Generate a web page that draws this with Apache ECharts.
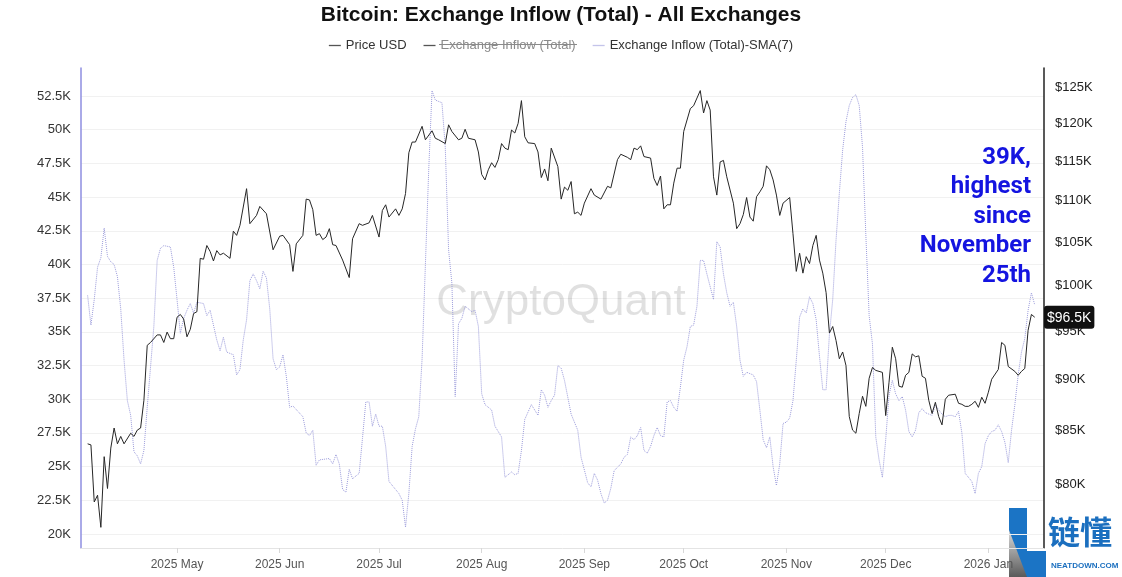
<!DOCTYPE html>
<html>
<head>
<meta charset="utf-8">
<title>Bitcoin: Exchange Inflow (Total) - All Exchanges</title>
<script src="https://cdn.jsdelivr.net/npm/echarts@6/dist/echarts.min.js"></script>
<style>
  html, body { margin: 0; padding: 0; background: #fff; }
  #chart { width: 1122px; height: 577px; }
</style>
</head>
<body>
<div id="chart"></div>
<script>
// days counted from 2025-04-01
const START = Date.UTC(2025, 3, 1);
const DAY = 86400000;

const priceDays = [
  3, 4, 5, 6, 7, 8, 9, 10, 11, 12, 13, 14, 16, 17, 18, 19, 20, 21, 22, 24, 25, 26, 27, 28, 29, 30,
  31, 32, 33, 34, 35, 36, 37, 38, 39, 40, 41, 42, 43, 44, 46, 47, 48, 49, 51, 52, 54, 55, 57, 59,
  61, 62, 64, 65, 66, 68, 69, 70, 71, 72, 73, 74, 75, 76, 77, 78, 80, 82, 83, 85, 86, 88, 89, 91,
  92, 93, 94, 96, 97, 98, 99, 100, 101, 102, 104, 105, 107, 108, 109, 111, 112, 113, 115, 116, 117,
  118, 120, 121, 122, 123, 124, 125, 126, 127, 128, 129, 130, 131, 132, 133, 134, 135, 136, 138,
  139, 140, 141, 142, 143, 145, 146, 147, 148, 149, 150, 151, 152, 153, 155, 156, 158, 160, 161,
  163, 164, 166, 167, 168, 169, 170, 171, 173, 174, 175, 176, 177, 178, 179, 180, 181, 182, 183,
  185, 186, 188, 189, 190, 191, 192, 193, 194, 195, 196, 198, 199, 200, 201, 202, 203, 204, 205,
  206, 207, 208, 209, 210, 211, 212, 213, 215, 216, 217, 218, 219, 220, 221, 222, 223, 224, 225,
  226, 227, 228, 229, 230, 231, 232, 233, 234, 235, 236, 237, 238, 239, 240, 241, 243, 244, 245,
  246, 247, 248, 249, 250, 251, 252, 253, 254, 255, 256, 257, 258, 259, 260, 261, 262, 263, 265,
  266, 267, 268, 269, 270, 271, 272, 273, 274, 275, 276, 278, 279, 280, 281, 283, 284, 285, 286,
  287, 288, 289
];
const priceUsd = [
  83700, 83600, 78400, 79000, 76200, 82500, 79600, 83300, 85200, 83700, 84400, 83700, 84700, 84400,
  85000, 85200, 87900, 93500, 93800, 94600, 94600, 93800, 94900, 94200, 94200, 96500,
  96800, 96300, 94400, 95200, 96900, 97100, 103100, 103000, 104600, 103900, 102800, 104000, 103500,
  103700, 103100, 106300, 105800, 107000, 111500, 107200, 108200, 109300, 108400, 104100,
  105700, 105800, 104700, 101600, 104800, 105800, 110200, 110100, 108900, 105800, 106000, 105300,
  105600, 106600, 104700, 104600, 102900, 100900, 105400, 107200, 107000, 107300, 108200, 105600,
  108800, 109500, 108000, 109000, 108200, 109000, 110900, 116100, 117500, 117500, 119600, 117800,
  119000, 118000, 117800, 117300, 119800, 118900, 117800, 118000, 119200,
  118000, 117800, 116200, 113300, 112600, 113900, 114800, 114200, 115200, 117300, 116700, 116500,
  119100, 118700, 120000, 123100, 118200, 117400, 117300,
  116200, 112900, 114000, 112500, 116700, 114300, 110200, 111700, 111300, 112400, 108400, 108600,
  108200, 109700, 111500, 110700, 110200, 111800, 111600,
  115200, 115900, 115500, 115200, 116700, 116500, 117000, 115600, 115400, 112800, 111900, 113100,
  109000, 109500, 109500, 112200, 114100, 114100, 118900,
  122000, 122400, 124500, 121400, 123100, 121800, 113000, 110700, 114900, 115100, 113000, 109700,
  106600, 107200, 108300, 110400, 108000, 107500, 110500,
  111100, 111800, 114400, 113900, 112600, 110700, 108200, 109700, 110400, 106000, 101600, 103700,
  101400, 103300, 102500, 104600, 105800, 102900, 101400,
  99200, 94800, 95500, 94000, 92100, 92800, 91400, 86300, 85000, 84700, 86600, 88300, 87300, 90100,
  91200, 90900, 90700, 86400, 89700,
  93300, 92100, 89300, 89200, 90400, 90700, 92600, 92300, 92400, 90300, 90100, 87900, 86600, 87700,
  86300, 85500, 88000, 88400, 88500,
  87600, 87500, 87300, 87300, 87500, 87800, 87200, 88200, 87600, 88700, 90000, 91000, 93800, 93500,
  91300, 90800, 90400, 90800, 91100,
  95100, 96800, 96500
];

const smaDays = [
  3, 4, 5, 6, 7, 8, 9, 10, 11, 12, 13, 14, 15, 16, 17, 18, 19, 20, 21, 22, 23, 24, 25, 26, 28, 29,
  30, 31, 32, 33, 34, 35, 36, 38, 39, 40, 42, 43, 44, 45, 47, 48, 49, 50, 51, 52, 53, 54, 55, 56,
  57, 58, 59, 60, 61, 62, 63, 64, 65, 68, 69, 70, 71, 72, 73, 76, 77, 78, 79, 80, 81, 82, 83, 85,
  86, 87, 88, 89, 90, 91, 92, 93, 94, 96, 97, 98, 99, 100, 101, 102, 103, 104, 105, 106, 107, 108,
  110, 111, 112, 113, 114, 115, 116, 117, 119, 120, 121, 122, 123, 125, 126, 128, 129, 131, 132,
  133, 134, 135, 137, 138, 139, 140, 141, 142, 143, 144, 145, 146, 147, 149, 151, 152, 154, 155,
  156, 157, 158, 159, 160, 161, 162, 164, 165, 166, 167, 168, 169, 170, 171, 172, 173, 174, 175,
  176, 177, 178, 179, 180, 181, 182, 183, 184, 185, 186, 187, 188, 189, 190, 192, 193, 194, 195,
  196, 197, 198, 199, 200, 201, 202, 204, 205, 206, 207, 208, 209, 210, 211, 212, 213, 214, 215,
  216, 217, 218, 219, 220, 221, 222, 223, 224, 225, 226, 227, 228, 229, 230, 231, 232, 233, 234,
  235, 236, 237, 238, 239, 240, 241, 242, 243, 244, 245, 246, 247, 248, 249, 250, 251, 252, 253,
  254, 255, 256, 257, 258, 259, 260, 261, 262, 263, 264, 265, 266, 267, 268, 269, 270, 271, 272,
  273, 274, 275, 276, 277, 278, 279, 280, 281, 282, 283, 284, 285, 286, 287, 288, 289
];
const smaInflow = [
  37700, 35500, 37400, 39800, 40500, 42700, 40600, 40200, 40000, 39100, 36700, 32900, 29900, 28800,
  26100, 25800, 25200, 26200, 29400, 32400, 35400, 40300, 41200, 41400, 41300, 39800,
  37400, 34900, 36000, 36600, 37100, 36400, 37200, 37100, 36200, 36600, 34400, 33600, 34600, 33500,
  33300, 31800, 32200, 34400, 35900, 38800, 39300, 38800, 38200, 39500,
  39000, 36700, 33000, 32200, 32400, 33300, 31700, 29400, 29500, 28700, 27500, 27300, 27700, 25100,
  25500, 25600, 25200, 25900, 25200, 23300, 23100, 24800, 24100, 24500,
  27100, 29800, 29800, 28000, 28900, 28000, 28000, 26500, 23900, 23300, 23000, 22500, 20500, 23000,
  26500, 27800, 28700, 33000, 40000, 47000, 52900, 52200,
  52000, 48700, 41100, 38600, 30200, 35600, 36000, 36900, 36500, 36600, 35400, 30400, 29600, 29200,
  28000, 27200, 24200, 24600, 24400,
  24500, 26200, 28500, 29600, 29200, 28800, 30700, 30300, 29400, 29900, 30300, 32500, 32300, 31400,
  28900, 27700, 25700, 23800, 23500,
  24500, 24000, 23000, 22300, 22500, 23400, 24700, 25200, 25700, 25900, 27200, 27000, 27300, 27900,
  26200, 26000, 26500, 27300, 27900,
  27300, 27200, 29800, 29900, 29400, 29100, 30900, 32900, 33900, 35400, 35500, 36900, 40300, 40300,
  39300, 37400, 41700, 41300, 39300,
  37900, 36900, 37200, 35400, 32900, 31700, 32000, 31800, 31300, 29200, 27000, 26400, 27200, 25000,
  23600, 25200, 28200, 28300, 28600,
  29900, 32900, 36100, 36700, 36400, 37600, 37100, 35900, 33200, 30700, 30700, 34800, 37400, 41800,
  45300, 48500, 50600, 51800, 52400,
  52600, 51800, 48700, 42200, 36200, 34100, 27200, 25500, 24200, 27000, 30300, 31400, 30400, 29900,
  30200, 29200, 27600, 27200, 27700,
  29000, 29300, 29000, 28900, 28800, 29600, 29200, 28900, 28700, 28800, 28800, 28700, 29100, 27500,
  24500, 24200, 23900, 23000, 24500,
  25000, 26700, 27300, 27600, 27700, 28100, 27600, 26800, 25300, 27700, 29600, 31800, 33500, 34500,
  36600, 37900, 37000
];

const inflowTicks = [20000, 22500, 25000, 27500, 30000, 32500, 35000, 37500, 40000, 42500, 45000, 47500, 50000, 52500];
const priceTicks = [80000, 85000, 90000, 95000, 100000, 105000, 110000, 115000, 120000, 125000];
const monthNames = ['Jan', 'Feb', 'Mar', 'Apr', 'May', 'Jun', 'Jul', 'Aug', 'Sep', 'Oct', 'Nov', 'Dec'];

const xRangeDays = [1, 291.8];
const inflowRange = [18960, 54580];
const priceRange = [74450, 127700];

const annotation = '39K,\nhighest\nsince\nNovember\n25th';

const toTime = d => START + d * DAY;
// price axis is logarithmic, so the right axis works on ln(price)
const lnPrice = v => Math.log(v);
const fmtK = v => {
  const k = v / 1000;
  return (Number.isInteger(k) ? k : k.toFixed(1)) + 'K';
};

const FONT = '"Liberation Sans", Arial, sans-serif';
const PRICE_COLOR = '#262626';
const SMA_COLOR = '#9d9ddc';
const lastPrice = priceUsd[priceUsd.length - 1];

const chart = echarts.init(document.getElementById('chart'), null, { renderer: 'canvas' });

chart.setOption({
  animation: false,
  backgroundColor: '#fff',
  textStyle: { fontFamily: FONT },
  title: {
    text: 'Bitcoin: Exchange Inflow (Total) - All Exchanges',
    left: 'center',
    top: 0,
    textStyle: { fontSize: 21, fontWeight: 'bold', color: '#111', fontFamily: FONT },
  },
  legend: {
    top: 34,
    left: 'center',
    icon: 'rect',
    itemWidth: 12,
    itemHeight: 1.3,
    itemGap: 17,
    textStyle: { fontSize: 13, color: '#333', fontFamily: FONT },
    data: [
      { name: 'Price USD', itemStyle: { color: '#555' } },
      { name: 'Exchange Inflow (Total)', itemStyle: { color: '#555' }, textStyle: { color: '#8a8a8a' } },
      { name: 'Exchange Inflow (Total)-SMA(7)', itemStyle: { color: '#c4c4ea' } },
    ],
  },
  grid: { left: 81, right: 78, top: 68, bottom: 29 },
  xAxis: {
    type: 'time',
    min: toTime(xRangeDays[0]),
    max: toTime(xRangeDays[1]),
    minInterval: 28 * DAY,
    splitNumber: 9,
    axisLine: { lineStyle: { color: '#e4e4e4', width: 1 } },
    axisTick: { show: true, length: 5, lineStyle: { color: '#d8d8d8' } },
    splitLine: { show: false },
    axisLabel: {
      color: '#555',
      fontSize: 12,
      margin: 11,
      formatter: v => {
        const d = new Date(v);
        return d.getUTCFullYear() + ' ' + monthNames[d.getUTCMonth()];
      },
    },
  },
  yAxis: [
    {
      type: 'value',
      position: 'left',
      min: inflowRange[0],
      max: inflowRange[1],
      axisLine: { show: true, lineStyle: { color: '#8e8ee0', width: 1.5 } },
      axisTick: { show: false, customValues: inflowTicks },
      splitLine: { show: true, lineStyle: { color: '#f1f1f1', width: 1 } },
      axisLabel: {
        customValues: inflowTicks,
        color: '#333',
        fontSize: 13,
        margin: 10,
        formatter: v => fmtK(v),
      },
    },
    {
      type: 'value',
      position: 'right',
      min: lnPrice(priceRange[0]),
      max: lnPrice(priceRange[1]),
      axisLine: { show: true, lineStyle: { color: '#222', width: 1.5 } },
      axisTick: { show: false, customValues: priceTicks.map(lnPrice) },
      splitLine: { show: false },
      axisLabel: {
        customValues: priceTicks.map(lnPrice),
        color: '#222',
        fontSize: 13,
        margin: 11,
        formatter: v => '$' + Math.round(Math.exp(v) / 1000) + 'K',
      },
      axisPointer: {
        show: true,
        status: 'show',
        value: lnPrice(lastPrice),
        triggerTooltip: false,
        lineStyle: { opacity: 0 },
        label: {
          show: true,
          backgroundColor: '#111',
          color: '#fff',
          fontSize: 14,
          fontFamily: FONT,
          padding: [5, 3, 4, 3],
          margin: 0,
          formatter: p => '$' + fmtK(Math.round(Math.exp(p.value) / 100) * 100),
        },
      },
    },
  ],
  series: [
    {
      name: 'Price USD',
      type: 'line',
      yAxisIndex: 1,
      showSymbol: false,
      symbol: 'none',
      z: 4,
      data: priceDays.map((d, i) => [toTime(d), lnPrice(priceUsd[i])]),
      lineStyle: { color: PRICE_COLOR, width: 1 },
      itemStyle: { color: PRICE_COLOR },
    },
    {
      name: 'Exchange Inflow (Total)',
      type: 'line',
      yAxisIndex: 0,
      symbol: 'none',
      data: [],
      lineStyle: { color: '#555', width: 1 },
      itemStyle: { color: '#555' },
    },
    {
      name: 'Exchange Inflow (Total)-SMA(7)',
      type: 'line',
      yAxisIndex: 0,
      showSymbol: false,
      symbol: 'none',
      z: 3,
      data: smaDays.map((d, i) => [toTime(d), smaInflow[i]]),
      lineStyle: { color: SMA_COLOR, width: 1, type: 'dotted' },
      itemStyle: { color: SMA_COLOR },
    },
  ],
  graphic: [
    // watermark
    {
      type: 'text',
      left: 'center',
      top: 281,
      z: 1,
      style: {
        text: 'CryptoQuant',
        fill: 'rgba(0,0,0,0.12)',
        font: '500 44px "Liberation Sans", Arial, sans-serif',
      },
    },
    // struck-through legend entry
    {
      type: 'line',
      z: 100,
      shape: { x1: 439, y1: 44.5, x2: 577, y2: 44.5 },
      style: { stroke: '#8a8a8a', lineWidth: 1 },
    },
    {
      type: 'text',
      x: 1031,
      y: 143,
      z: 50,
      style: {
        text: annotation,
        fill: '#1414e0',
        align: 'right',
        verticalAlign: 'top',
        lineHeight: 29.5,
        font: 'bold 24px Roboto, "Liberation Sans", sans-serif',
      },
    },
    // site logo in the corner
    {
      type: 'group',
      left: 1005,
      top: 505,
      z: 200,
      children: [
        { type: 'rect', shape: { x: 0, y: 0, width: 117, height: 72 }, style: { fill: '#fff' } },
        { type: 'rect', shape: { x: 4, y: 3, width: 18, height: 69 }, style: { fill: '#1b74c5' } },
        {
          type: 'polygon',
          shape: { points: [[4, 25], [22, 72], [4, 72]] },
          style: {
            fill: new echarts.graphic.LinearGradient(0, 0, 0, 1, [
              { offset: 0, color: '#d9d9d9' },
              { offset: 1, color: '#5a5a5a' },
            ]),
          },
        },
        { type: 'rect', shape: { x: 22, y: 46, width: 19, height: 26 }, style: { fill: '#1b74c5' } },
        {
          type: 'text',
          x: 43,
          y: 11,
          style: { text: '链懂', fill: '#1b6fbf', font: 'bold 32px "Noto Sans CJK SC", sans-serif' },
        },
        {
          type: 'text',
          x: 46,
          y: 57,
          style: { text: 'NEATDOWN.COM', fill: '#1b6fbf', font: 'bold 8px "Liberation Sans", sans-serif' },
        },
      ],
    },
  ],
});
</script>
</body>
</html>
